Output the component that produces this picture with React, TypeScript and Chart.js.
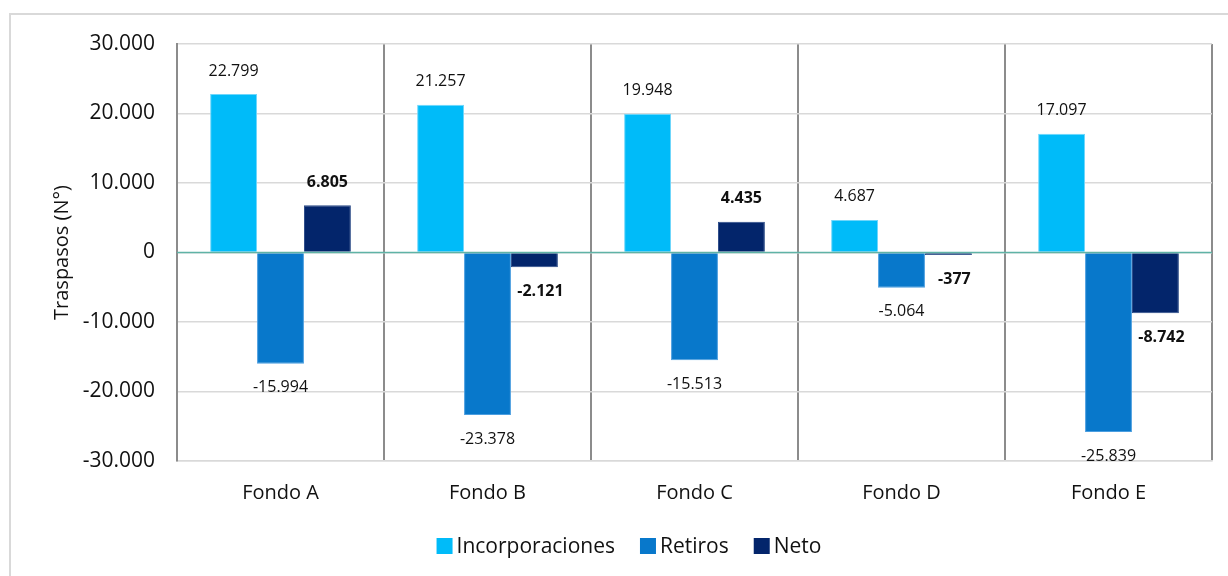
import React, { useEffect, useRef } from "react";
import { Chart, registerables } from "chart.js";

Chart.register(...registerables);

const categories = ["Fondo A", "Fondo B", "Fondo C", "Fondo D", "Fondo E"];
const incorporaciones = [22799, 21257, 19948, 4687, 17097];
const retiros = [-15994, -23378, -15513, -5064, -25839];
const neto = [6805, -2121, 4435, -377, -8742];
const yTicks = [-30000, -20000, -10000, 0, 10000, 20000, 30000];

const seriesNames = ["Incorporaciones", "Retiros", "Neto"];
const seriesColors = ["#00BBF9", "#0878CB", "#03256B"];
const seriesBorders = ["#6fd6fb", "#4b9ee0", "#2a4a86"];

const FONT = "'Open Sans', 'Noto Sans', sans-serif";

function fmt(v: number): string {
  const s = Math.abs(Math.round(v)).toString().replace(/\B(?=(\d{3})+(?!\d))/g, ".");
  return (v < 0 ? "-" : "") + s;
}

const framePlugin = {
  id: "frame",
  beforeDraw(chart: any) {
    const ctx = chart.ctx;
    ctx.save();
    ctx.fillStyle = "#ffffff";
    ctx.fillRect(0, 0, chart.width, chart.height);
    ctx.strokeStyle = "#d9d9d9";
    ctx.lineWidth = 2;
    ctx.strokeRect(10, 14, 1400, 800);
    ctx.restore();
  },
};

const zeroLinePlugin = {
  id: "zeroLine",
  afterDatasetsDraw(chart: any) {
    const ctx = chart.ctx;
    const y = chart.scales.y.getPixelForValue(0);
    const { left, right } = chart.chartArea;
    ctx.save();
    ctx.strokeStyle = "#5fb3a6";
    ctx.lineWidth = 1.5;
    ctx.beginPath();
    ctx.moveTo(left, y);
    ctx.lineTo(right, y);
    ctx.stroke();
    ctx.restore();
  },
};

const labelsPlugin = {
  id: "valueLabels",
  afterDatasetsDraw(chart: any) {
    const ctx = chart.ctx;
    ctx.save();
    ctx.textAlign = "center";
    ctx.textBaseline = "middle";
    ctx.fillStyle = "#111111";
    chart.data.datasets.forEach((ds: any, di: number) => {
      const meta = chart.getDatasetMeta(di);
      ctx.font = (di === 2 ? "bold " : "") + "16px " + FONT;
      meta.data.forEach((el: any, i: number) => {
        const v = ds.data[i];
        const y = v >= 0 ? el.y - 23 : el.y + 24;
        const x = el.x + (di === 2 && v < 0 ? 6 : 0);
        ctx.fillText(fmt(v), x, y);
      });
    });
    ctx.restore();
  },
};

const legendPlugin = {
  id: "customLegend",
  afterDraw(chart: any) {
    const ctx = chart.ctx;
    ctx.save();
    ctx.font = "21px " + FONT;
    ctx.textBaseline = "middle";
    ctx.textAlign = "left";
    const box = 16;
    const gap = 4;
    const itemGap = 25;
    const widths = seriesNames.map((n) => ctx.measureText(n).width);
    const total = widths.reduce((a, w) => a + box + gap + w, 0) + itemGap * (seriesNames.length - 1);
    let x = 629 - total / 2;
    const cy = 546;
    seriesNames.forEach((n, i) => {
      ctx.fillStyle = seriesColors[i];
      ctx.fillRect(x, cy - box / 2, box, box);
      ctx.fillStyle = "#111111";
      ctx.fillText(n, x + box + gap, cy + 1);
      x += box + gap + widths[i] + itemGap;
    });
    ctx.restore();
  },
};

export default function App() {
  const ref = useRef<HTMLCanvasElement>(null);

  useEffect(() => {
    if (!ref.current) return;
    const series = [incorporaciones, retiros, neto];
    const chart = new Chart(ref.current, {
      type: "bar",
      data: {
        labels: categories,
        datasets: series.map((d, i) => ({
          label: seriesNames[i],
          data: d,
          backgroundColor: seriesColors[i],
          borderColor: seriesBorders[i],
          borderWidth: 1,
          barPercentage: 1,
          categoryPercentage: 0.68,
        })),
      },
      options: {
        animation: false,
        responsive: false,
        devicePixelRatio: 1,
        layout: { padding: { top: 44, right: 16, left: 0, bottom: 0 } },
        plugins: {
          legend: { display: false },
          tooltip: { enabled: false },
        },
        scales: {
          x: {
            grid: {
              display: true,
              offset: true,
              drawTicks: false,
              color: "#8c8c8c",
              lineWidth: 2,
            },
            border: { display: true, color: "#d9d9d9", width: 1.5 },
            ticks: {
              padding: 20,
              color: "#111111",
              font: { family: FONT, size: 20 },
            },
            afterFit(scale: any) {
              scale.height = 115;
            },
          },
          y: {
            min: -30000,
            max: 30000,
            afterBuildTicks(scale: any) {
              scale.ticks = yTicks.map((v) => ({ value: v }));
            },
            grid: {
              drawTicks: false,
              color: "#d9d9d9",
              lineWidth: 1.5,
            },
            border: { display: true, color: "#8c8c8c", width: 2 },
            ticks: {
              padding: 22,
              color: "#111111",
              font: { family: FONT, size: 21 },
              callback: (v: any) => fmt(Number(v)),
            },
            title: {
              display: true,
              text: "Traspasos (N°)",
              color: "#111111",
              font: { family: FONT, size: 20 },
              padding: { top: 50, bottom: 0 },
            },
            afterFit(scale: any) {
              scale.width = 177;
            },
          },
        },
      },
      plugins: [framePlugin, zeroLinePlugin, labelsPlugin, legendPlugin],
    } as any);
    return () => chart.destroy();
  }, []);

  return (
    <div style={{ position: "absolute", left: 0, top: 0, width: 1228, height: 576, overflow: "hidden" }}>
      <canvas ref={ref} width={1228} height={576} style={{ display: "block" }} />
    </div>
  );
}
